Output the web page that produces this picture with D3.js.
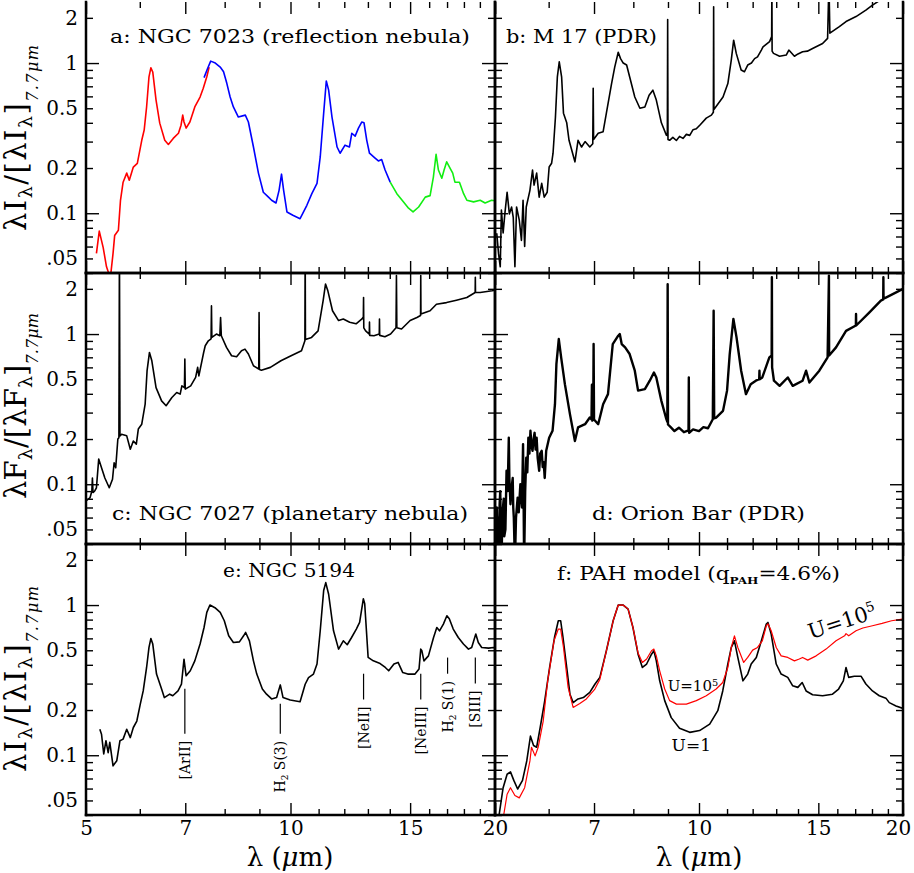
<!DOCTYPE html>
<html>
<head>
<meta charset="utf-8">
<script src="https://cdn.jsdelivr.net/npm/d3@7"></script>
<style>
  body { margin: 0; background: #fff; }
  text { font-family: "DejaVu Serif", serif; fill: #000; }
</style>
</head>
<body>
<script>
'use strict';

(function() {

  // axis ticks (wavelength in micron, normalised intensity)
  const xMajor = [5, 7, 10, 15, 20];
  const xMinor = [6, 8, 9, 11, 12, 13, 14, 16, 17, 18, 19];
  const yMajor = [0.1, 1];
  const yMinor = [0.04, 0.05, 0.06, 0.07, 0.08, 0.09, 0.2, 0.3, 0.4, 0.5, 0.6, 0.7, 0.8, 0.9, 2];
  const yLabelValues = [0.05, 0.1, 0.2, 0.5, 1, 2];
  const yLabelText = ['.05', '0.1', '0.2', '0.5', '1', '2'];

  // a: NGC 7023, three spectral orders
  const ngc7023Red = [[5.18,0.054],[5.23,0.076],[5.30,0.059],[5.36,0.044],[5.43,0.037],[5.48,0.054],[5.51,0.071],[5.58,0.077],
    [5.62,0.122],[5.67,0.161],[5.74,0.185],[5.79,0.166],[5.87,0.203],[5.95,0.215],[6.04,0.306],[6.09,0.358],[6.14,0.51],
    [6.19,0.81],[6.23,0.93],[6.27,0.87],[6.34,0.567],[6.42,0.398],[6.53,0.306],[6.61,0.287],[6.72,0.315],[6.84,0.341],
    [6.90,0.386],[6.94,0.45],[6.97,0.405],[7.02,0.369],[7.11,0.405],[7.23,0.51],[7.36,0.594],[7.44,0.68],[7.53,0.81],[7.59,0.94]];
  const ngc7023Blue = [[7.46,0.80],[7.55,0.92],[7.63,1.03],[7.75,1.0],[7.88,0.94],[7.97,0.875],[8.06,0.73],[8.15,0.594],
    [8.24,0.51],[8.38,0.437],[8.58,0.45],[8.67,0.405],[8.82,0.276],[8.97,0.185],[9.12,0.138],[9.28,0.128],[9.38,0.122],
    [9.52,0.117],[9.62,0.142],[9.70,0.182],[9.77,0.142],[9.88,0.102],[10.08,0.097],[10.33,0.092],[10.57,0.113],[10.75,0.135],
    [10.94,0.158],[11.06,0.237],[11.19,0.464],[11.29,0.76],[11.38,0.66],[11.51,0.437],[11.71,0.276],[11.83,0.251],
    [12.03,0.284],[12.21,0.276],[12.31,0.341],[12.45,0.326],[12.59,0.369],[12.73,0.405],[12.83,0.40],[12.95,0.306],
    [13.07,0.251],[13.32,0.233],[13.47,0.223],[13.62,0.228],[13.78,0.194],[14.02,0.161]];
  const ngc7023Green = [[14.02,0.161],[14.34,0.135],[14.67,0.119],[14.92,0.108],[15.15,0.102],[15.44,0.110],[15.79,0.128],
    [16.05,0.131],[16.23,0.174],[16.38,0.247],[16.51,0.194],[16.70,0.171],[16.83,0.194],[16.98,0.22],[17.14,0.203],
    [17.33,0.185],[17.46,0.161],[17.73,0.161],[17.98,0.135],[18.18,0.122],[18.60,0.119],[19.02,0.122],[19.34,0.117],
    [19.77,0.122],[20.0,0.121]];

  // b: M 17
  const m17 = [[5.03,0.0736],[5.06,0.054],[5.09,0.044],[5.11,0.105],[5.14,0.074],[5.17,0.099],[5.21,0.138],[5.25,0.099],
    [5.29,0.110],[5.32,0.094],[5.35,0.044],[5.38,0.110],[5.43,0.090],[5.47,0.066],[5.50,0.122],[5.53,0.060],[5.56,0.110],
    [5.63,0.142],[5.68,0.194],[5.71,0.154],[5.76,0.185],[5.81,0.128],[5.86,0.158],[5.91,0.128],[5.97,0.138],[6.01,0.203],
    [6.06,0.215],[6.09,0.251],[6.14,0.437],[6.18,0.81],[6.22,1.02],[6.27,0.81],[6.31,0.464],[6.38,0.40],[6.43,0.306],
    [6.56,0.22],[6.63,0.306],[6.71,0.276],[6.79,0.30],[6.90,0.276],[6.97,0.29],[6.98,0.68],[6.99,0.31],[7.10,0.341],
    [7.22,0.349],[7.30,0.464],[7.43,0.73],[7.51,0.94],[7.60,1.18],[7.66,1.07],[7.73,1.0],[7.82,0.97],[7.90,0.81],
    [8.04,0.594],[8.18,0.50],[8.32,0.51],[8.44,0.61],[8.55,0.66],[8.65,0.567],[8.80,0.40],[8.95,0.331],[8.98,0.33],
    [8.99,1.95],[9.00,0.31],[9.05,0.306],[9.15,0.32],[9.26,0.305],[9.36,0.325],[9.47,0.315],[9.58,0.335],[9.69,0.33],
    [9.80,0.36],[9.91,0.365],[10.05,0.39],[10.25,0.43],[10.43,0.45],[10.50,0.47],[10.51,2.37],[10.52,0.49],[10.85,0.594],
    [11.03,0.73],[11.16,1.05],[11.25,1.42],[11.35,1.16],[11.54,0.90],[11.67,0.875],[11.80,0.97],[11.95,1.0],[12.08,1.07],
    [12.2,1.1],[12.36,1.22],[12.43,1.28],[12.71,1.39],[12.80,1.5],[12.81,3.5],[12.82,1.2],[12.88,1.16],[13.15,1.11],
    [13.45,1.13],[13.57,1.22],[13.83,1.11],[14.0,1.15],[14.22,1.19],[14.45,1.2],[14.71,1.25],[15.22,1.35],[15.48,1.46],
    [15.55,3.5],[15.6,1.58],[16.11,1.75],[16.48,1.89],[17.05,2.04],[17.63,2.25],[18.03,2.43],[18.45,2.6],[20,3.2]];

  // c: NGC 7027
  const ngc7027 = [[5.0,0.0774],[5.07,0.0815],[5.10,0.09],[5.11,0.110],[5.12,0.088],[5.15,0.0902],[5.18,0.0947],[5.22,0.147],
    [5.27,0.129],[5.33,0.110],[5.41,0.0947],[5.47,0.108],[5.50,0.139],[5.53,0.129],[5.57,0.20],[5.59,0.204],[5.60,4],
    [5.61,0.21],[5.64,0.215],[5.74,0.21],[5.81,0.171],[5.87,0.194],[5.93,0.185],[5.97,0.233],[6.04,0.251],[6.11,0.341],
    [6.15,0.57],[6.20,0.754],[6.25,0.664],[6.34,0.44],[6.46,0.359],[6.56,0.333],[6.69,0.378],[6.80,0.408],[6.88,0.398],
    [6.92,0.452],[6.98,0.44],[6.99,0.681],[7.00,0.43],[7.13,0.452],[7.25,0.514],[7.30,0.60],[7.33,0.527],[7.45,0.754],
    [7.49,0.836],[7.57,0.902],[7.64,0.93],[7.65,1.54],[7.66,0.95],[7.78,1.0],[7.87,0.975],[7.89,1.29],[7.91,0.975],
    [8.05,0.815],[8.19,0.717],[8.33,0.706],[8.47,0.774],[8.57,0.794],[8.67,0.736],[8.82,0.615],[8.98,0.585],[8.99,1.39],
    [9.0,0.58],[9.06,0.575],[9.34,0.60],[9.68,0.664],[10.02,0.717],[10.38,0.774],[10.50,0.902],[10.51,4],[10.52,0.92],
    [10.74,0.95],[10.98,1.05],[11.17,1.67],[11.26,2.15],[11.35,1.94],[11.53,1.43],[11.77,1.23],[11.96,1.26],[12.22,1.20],
    [12.49,1.17],[12.74,1.26],[12.80,1.3],[12.81,1.75],[12.82,1.1],[12.9,1.05],[13.06,1.0],[13.07,1.20],[13.08,0.98],
    [13.27,0.975],[13.51,1.0],[13.52,1.26],[13.53,0.98],[13.77,0.96],[14.04,1.0],[14.30,1.10],[14.32,2.45],[14.34,1.10],
    [14.57,1.08],[15.0,1.23],[15.35,1.29],[15.54,1.33],[15.55,2.45],[15.56,1.36],[16.05,1.43],[16.4,1.58],[16.97,1.62],
    [17.55,1.68],[18.18,1.75],[18.70,1.89],[18.71,2.39],[18.72,1.89],[19.02,1.89],[19.8,1.94],[20,1.96]];

  // d: Orion Bar
  const orionBar = [[5.01,0.045],[5.02,0.03],[5.03,0.07],[5.04,0.035],[5.05,0.06],[5.06,0.03],[5.07,0.05],[5.08,0.075],
    [5.09,0.090],[5.10,0.05],[5.11,0.03],[5.13,0.065],[5.15,0.08],[5.16,0.045],[5.18,0.05],[5.20,0.123],[5.22,0.09],
    [5.24,0.204],[5.25,0.11],[5.27,0.0736],[5.29,0.095],[5.31,0.110],[5.32,0.07],[5.33,0.06],[5.35,0.03],[5.37,0.06],
    [5.40,0.0815],[5.42,0.065],[5.45,0.1],[5.48,0.07],[5.50,0.185],[5.51,0.08],[5.52,0.03],[5.54,0.09],[5.56,0.15],
    [5.58,0.12],[5.60,0.204],[5.62,0.16],[5.64,0.227],[5.66,0.18],[5.68,0.167],[5.70,0.2],[5.72,0.22],[5.74,0.17],
    [5.76,0.204],[5.78,0.15],[5.81,0.123],[5.83,0.16],[5.86,0.167],[5.88,0.13],[5.90,0.14],[5.92,0.110],[5.95,0.167],
    [6.01,0.204],[6.08,0.227],[6.13,0.341],[6.16,0.631],[6.21,0.926],[6.26,0.70],[6.34,0.464],[6.45,0.293],[6.56,0.194],
    [6.63,0.239],[6.79,0.251],[6.90,0.278],[6.94,0.27],[6.95,0.46],[6.96,0.265],[6.98,0.27],[6.99,0.858],[7.00,0.27],
    [7.10,0.251],[7.22,0.341],[7.34,0.398],[7.46,0.858],[7.60,0.975],[7.64,1.0],[7.69,0.858],[7.78,0.815],[7.90,0.736],
    [8.04,0.57],[8.13,0.42],[8.32,0.43],[8.46,0.489],[8.58,0.555],[8.65,0.514],[8.80,0.359],[8.95,0.271],[8.98,0.26],
    [8.99,2.15],[9.0,0.25],[9.09,0.239],[9.2,0.226],[9.34,0.238],[9.5,0.222],[9.65,0.228],[9.66,0.514],[9.67,0.22],
    [9.8,0.232],[10.0,0.226],[10.15,0.24],[10.31,0.236],[10.48,0.271],[10.51,1.43],[10.53,0.275],[10.6,0.278],[10.85,0.308],
    [11.0,0.42],[11.1,0.736],[11.24,1.26],[11.36,0.95],[11.54,0.57],[11.73,0.398],[11.92,0.464],[12.13,0.489],[12.27,0.50],
    [12.28,0.57],[12.29,0.50],[12.4,0.514],[12.7,0.70],[12.80,0.72],[12.81,2.39],[12.82,0.6],[12.9,0.489],[13.15,0.452],
    [13.52,0.514],[13.75,0.452],[14.22,0.489],[14.39,0.57],[14.55,0.476],[15.05,0.57],[15.48,0.70],[15.55,2.45],
    [15.56,0.72],[15.93,0.815],[16.48,1.05],[17.04,1.14],[17.05,1.36],[17.06,1.14],[17.83,1.39],[18.55,1.67],[18.70,1.7],
    [18.71,2.39],[18.72,1.72],[18.87,1.75],[19.97,1.99]];

  // e: NGC 5194
  const ngc5194 = [[5.24,0.149],[5.27,0.138],[5.31,0.102],[5.35,0.125],[5.39,0.104],[5.42,0.122],[5.48,0.085],[5.55,0.092],
    [5.61,0.125],[5.67,0.128],[5.74,0.149],[5.81,0.131],[5.87,0.153],[5.94,0.169],[6.01,0.219],[6.07,0.268],[6.14,0.384],
    [6.19,0.522],[6.23,0.599],[6.27,0.55],[6.35,0.347],[6.46,0.276],[6.52,0.242],[6.64,0.255],[6.71,0.249],[6.83,0.268],
    [6.91,0.297],[6.97,0.436],[7.02,0.338],[7.12,0.365],[7.23,0.425],[7.36,0.55],[7.46,0.709],[7.53,0.893],[7.61,1.0],
    [7.74,0.96],[7.88,0.893],[7.99,0.786],[8.11,0.624],[8.24,0.563],[8.41,0.569],[8.53,0.624],[8.59,0.657],[8.70,0.578],
    [8.82,0.425],[8.92,0.347],[9.09,0.276],[9.22,0.255],[9.38,0.237],[9.54,0.242],[9.66,0.294],[9.75,0.242],[9.99,0.233],
    [10.33,0.227],[10.51,0.297],[10.63,0.329],[10.81,0.347],[10.94,0.405],[11.06,0.674],[11.19,1.25],[11.27,1.41],
    [11.38,1.18],[11.57,0.674],[11.77,0.509],[11.96,0.578],[12.12,0.544],[12.30,0.608],[12.50,0.692],[12.64,0.766],
    [12.80,1.10],[12.86,1.02],[13.01,0.448],[13.24,0.425],[13.55,0.408],[13.79,0.384],[13.95,0.365],[14.20,0.405],
    [14.40,0.415],[14.63,0.355],[14.88,0.347],[15.25,0.347],[15.46,0.375],[15.55,0.509],[15.61,0.496],[15.72,0.425],
    [15.96,0.459],[16.24,0.608],[16.42,0.709],[16.57,0.674],[16.79,0.747],[16.99,0.849],[17.13,0.81],[17.36,0.692],
    [17.66,0.608],[17.97,0.55],[18.28,0.509],[18.48,0.522],[18.74,0.641],[18.90,0.563],[19.12,0.522],[19.57,0.517],
    [19.90,0.522],[20,0.52]];

  // e: identified emission lines (wavelength, line top, line bottom)
  const lineNames = ['[ArII]', 'H2 S(3)', '[NeII]', '[NeIII]', 'H2 S(1)', '[SIII]'];
  const lineWaves = [6.99, 9.66, 12.81, 15.55, 17.03, 18.71];
  const lineTops = [0.277, 0.22, 0.349, 0.349, 0.447, 0.447];
  const lineBottoms = [0.139, 0.139, 0.235, 0.235, 0.349, 0.30];

  // f: PAH model, U = 1 and U = 1e5
  const modelU1 = [[5.07,0.04],[5.14,0.0608],[5.21,0.0747],[5.27,0.0775],[5.33,0.068],[5.40,0.0596],[5.49,0.068],
    [5.57,0.0917],[5.64,0.134],[5.70,0.116],[5.76,0.113],[5.83,0.153],[5.92,0.23],[6.02,0.384],[6.12,0.608],[6.20,0.786],
    [6.25,0.786],[6.30,0.608],[6.38,0.384],[6.45,0.255],[6.52,0.224],[6.63,0.237],[6.75,0.242],[6.90,0.262],[7.02,0.297],
    [7.14,0.33],[7.30,0.496],[7.47,0.786],[7.60,1.0],[7.73,1.0],[7.86,0.94],[7.99,0.709],[8.13,0.471],[8.25,0.384],
    [8.37,0.405],[8.51,0.471],[8.58,0.496],[8.65,0.425],[8.75,0.313],[8.90,0.231],[9.10,0.178],[9.36,0.151],[9.69,0.142],
    [10.02,0.146],[10.37,0.161],[10.66,0.198],[10.84,0.268],[11.03,0.405],[11.16,0.522],[11.28,0.578],[11.41,0.448],
    [11.61,0.313],[11.80,0.347],[11.94,0.405],[12.15,0.448],[12.36,0.578],[12.57,0.747],[12.64,0.766],[12.78,0.641],
    [13.00,0.405],[13.22,0.347],[13.52,0.33],[13.75,0.29],[13.99,0.283],[14.20,0.305],[14.39,0.268],[14.71,0.253],
    [15.22,0.249],[15.74,0.255],[16.07,0.276],[16.33,0.313],[16.48,0.384],[16.63,0.33],[16.95,0.336],[17.34,0.336],
    [17.63,0.298],[18.03,0.268],[18.45,0.249],[18.87,0.24],[19.09,0.224],[19.53,0.213],[20,0.205]];
  const modelU1e5 = [[5.15,0.04],[5.21,0.055],[5.27,0.0608],[5.35,0.054],[5.43,0.052],[5.53,0.0608],[5.63,0.0917],
    [5.66,0.113],[5.73,0.099],[5.79,0.113],[5.89,0.169],[5.98,0.313],[6.11,0.578],[6.20,0.692],[6.25,0.692],[6.31,0.522],
    [6.41,0.283],[6.52,0.208],[6.67,0.221],[6.82,0.237],[7.02,0.276],[7.14,0.32],[7.30,0.496],[7.47,0.786],[7.60,1.0],
    [7.73,1.0],[7.86,0.94],[7.99,0.709],[8.13,0.48],[8.25,0.415],[8.37,0.437],[8.51,0.496],[8.58,0.509],[8.65,0.459],
    [8.75,0.365],[8.90,0.276],[9.05,0.231],[9.26,0.219],[9.58,0.219],[9.91,0.231],[10.25,0.249],[10.60,0.276],[10.84,0.305],
    [11.03,0.384],[11.16,0.522],[11.28,0.624],[11.41,0.522],[11.64,0.415],[11.80,0.448],[12.0,0.501],[12.2,0.522],
    [12.4,0.578],[12.57,0.728],[12.64,0.75],[12.78,0.674],[13.0,0.522],[13.22,0.459],[13.52,0.448],[13.83,0.425],
    [14.06,0.437],[14.22,0.448],[14.47,0.43],[14.89,0.459],[15.4,0.509],[15.93,0.578],[16.4,0.624],[16.48,0.645],
    [16.63,0.624],[17.05,0.674],[17.45,0.703],[18.03,0.728],[18.63,0.755],[19.24,0.786],[19.95,0.807]];

  // layout of the 3x2 grid
  const colX = [86, 495];
  const colW = [409, 408];
  const rowY = [2, 273, 544];
  const rowH = 271;

  let svg = "";

  window.onload = function() {
    svg = d3.select('body')
      .append('svg')
      .attr('width', 914)
      .attr('height', 873);

    let panels = [
      {id: 'a', col: 0, row: 0, title: 'a: NGC 7023 (reflection nebula)', tx: 24, ty: 41, tw: 360,
        series: [{data: ngc7023Red, color: '#ff0000'}, {data: ngc7023Blue, color: '#0000ff'}, {data: ngc7023Green, color: '#11ee11'}]},
      {id: 'b', col: 1, row: 0, title: 'b: M 17 (PDR)', tx: 11, ty: 41, tw: 151,
        series: [{data: m17, color: '#000'}]},
      {id: 'c', col: 0, row: 1, title: 'c: NGC 7027 (planetary nebula)', tx: 26, ty: 247, tw: 356,
        series: [{data: ngc7027, color: '#000'}]},
      {id: 'd', col: 1, row: 1, title: 'd: Orion Bar (PDR)', tx: 97, ty: 247, tw: 213,
        series: [{data: orionBar, color: '#000', width: 2.4}]},
      {id: 'e', col: 0, row: 2, title: 'e: NGC 5194', tx: 137, ty: 33, tw: 132,
        series: [{data: ngc5194, color: '#000'}]},
      {id: 'f', col: 1, row: 2, title: null, tx: 62, ty: 36, tw: 283,
        series: [{data: modelU1, color: '#000'}, {data: modelU1e5, color: '#ff0000', width: 1.2}]}
    ];

    let scales = {};
    panels.forEach(p => { scales[p.id] = drawPanel(p); });

    addLineIds(scales.e);
    addModelNotes(scales.f);
    addAxisTitles();
  };

  // draw one panel: curves, frame, ticks and title
  function drawPanel(p) {
    let left = colX[p.col];
    let top = rowY[p.row];
    let x = d3.scaleLog().domain([5, 20]).range([left, left + colW[p.col]]);
    let y = d3.scaleLog().domain([0.04, 2.55]).range([top + rowH, top]);

    let clipId = 'clip-' + p.id;
    svg.append('clipPath').attr('id', clipId)
      .append('rect')
      .attr('x', left).attr('y', top)
      .attr('width', colW[p.col]).attr('height', rowH);

    let line = d3.line()
      .x(d => x(d[0]))
      .y(d => y(d[1]));

    let g = svg.append('g');
    p.series.forEach(s => {
      g.append('path')
        .datum(s.data)
        .attr('clip-path', 'url(#' + clipId + ')')
        .attr('fill', 'none')
        .attr('stroke', s.color)
        .attr('stroke-width', s.width || 1.6)
        .attr('stroke-linejoin', 'round')
        .attr('d', line);
    });

    drawFrame(g, x, y, p);

    // panel title
    let t = g.append('text')
      .attr('x', left + p.tx)
      .attr('y', top + p.ty)
      .attr('font-size', 18)
      .attr('textLength', p.tw)
      .attr('lengthAdjust', 'spacingAndGlyphs');
    if (p.title) {
      t.text(p.title);
    } else {
      t.append('tspan').text('f: PAH model (q');
      t.append('tspan').attr('font-size', 10).attr('font-weight', 'bold')
        .attr('baseline-shift', '-4').text('PAH');
      t.append('tspan').text('=4.6%)');
    }
    return {x: x, y: y, g: g};
  }

  // tick marks on one edge, pointing inside the panel
  function addTicks(g, axis, values, len, transform) {
    g.append('g')
      .attr('transform', transform)
      .call(axis.tickValues(values).tickSize(-len).tickFormat(''))
      .call(s => s.select('.domain').remove())
      .selectAll('line')
        .attr('stroke', '#000')
        .attr('stroke-width', 1.4);
  }

  // frame with ticks on all four sides, labels on outer sides
  function drawFrame(g, x, y, p) {
    let [x0, x1] = x.range();
    let [y1, y0] = y.range();

    [[xMajor, 12], [xMinor, 6]].forEach(([vals, len]) => {
      addTicks(g, d3.axisBottom(x), vals, len, 'translate(0,' + y1 + ')');
      addTicks(g, d3.axisTop(x), vals, len, 'translate(0,' + y0 + ')');
    });
    [[yMajor, 13], [yMinor, 7]].forEach(([vals, len]) => {
      addTicks(g, d3.axisLeft(y), vals, len, 'translate(' + x0 + ',0)');
      addTicks(g, d3.axisRight(y), vals, len, 'translate(' + x1 + ',0)');
    });

    // frame lines (the outer top edge is off the picture)
    let edges = [[x0, y1, x1, y1], [x0, y0, x0, y1], [x1, y0, x1, y1]];
    if (p.row > 0) edges.push([x0, y0, x1, y0]);
    edges.forEach(e => {
      g.append('line')
        .attr('x1', e[0]).attr('y1', e[1])
        .attr('x2', e[2]).attr('y2', e[3])
        .attr('stroke', '#000')
        .attr('stroke-width', 2.5)
        .attr('stroke-linecap', 'square');
    });

    // y tick labels on the left column
    if (p.col === 0) {
      let ax = g.append('g')
        .attr('transform', 'translate(' + x0 + ',0)')
        .call(d3.axisLeft(y).tickValues(yLabelValues).tickSize(0).tickPadding(8)
          .tickFormat((d, i) => yLabelText[i]));
      ax.select('.domain').remove();
      ax.selectAll('text')
        .attr('font-family', '"DejaVu Serif", serif')
        .attr('font-size', 20);
    }

    // x tick labels on the bottom row
    if (p.row === 2) {
      let vals = p.col === 0 ? xMajor : xMajor.slice(1);
      let ax = g.append('g')
        .attr('transform', 'translate(0,' + y1 + ')')
        .call(d3.axisBottom(x).tickValues(vals).tickSize(0).tickPadding(6)
          .tickFormat(d3.format('d')));
      ax.select('.domain').remove();
      ax.selectAll('text')
        .attr('font-family', '"DejaVu Serif", serif')
        .attr('font-size', 20)
        .attr('dx', d => (p.col === 1 && d === 20) ? -5 : 0);
    }
  }

  // vertical markers and rotated names of the emission lines in panel e
  function addLineIds(s) {
    lineNames.forEach((name, i) => {
      let lx = s.x(lineWaves[i]);
      s.g.append('line')
        .attr('x1', lx).attr('x2', lx)
        .attr('y1', s.y(lineTops[i]))
        .attr('y2', s.y(lineBottoms[i]))
        .attr('stroke', '#000')
        .attr('stroke-width', 1.2);

      let t = s.g.append('text')
        .attr('transform', 'translate(' + (lx + 5) + ',' + (s.y(lineBottoms[i]) + 7) + ')rotate(-90)')
        .attr('text-anchor', 'end')
        .attr('font-size', 14);
      if (name.startsWith('H2')) {
        t.append('tspan').text('H');
        t.append('tspan').attr('font-size', 9).attr('baseline-shift', '-3').text('2');
        t.append('tspan').text(name.slice(2));
      } else {
        t.text(name);
      }
    });
  }

  // U labels of the model curves
  function addModelNotes(s) {
    let notes = [
      {wave: 16.39, value: 0.70, size: 21, rotate: -18, anchor: 'middle'},
      {wave: 8.99, value: 0.268, size: 15, rotate: 0, anchor: 'start'}
    ];
    notes.forEach(n => {
      let t = s.g.append('text')
        .attr('transform', 'translate(' + s.x(n.wave) + ',' + s.y(n.value) + ')rotate(' + n.rotate + ')')
        .attr('text-anchor', n.anchor)
        .attr('font-size', n.size);
      t.append('tspan').text('U=10');
      t.append('tspan').attr('font-size', n.size * 0.65).attr('baseline-shift', 'super').text('5');
    });

    s.g.append('text')
      .attr('x', s.x(9.11))
      .attr('y', s.y(0.107))
      .attr('font-size', 17)
      .text('U=1');
  }

  // axis titles
  function addAxisTitles() {
    let yTitles = [['I', 138], ['F', 406], ['I', 679]];
    yTitles.forEach(([q, cy]) => {
      let t = svg.append('text')
        .attr('transform', 'translate(26,' + cy + ')rotate(-90)')
        .attr('text-anchor', 'middle')
        .attr('font-size', 29)
        .attr('textLength', 186)
        .attr('lengthAdjust', 'spacing');
      t.append('tspan').text('λ' + q);
      t.append('tspan').attr('font-size', 19).attr('baseline-shift', '-6').text('λ');
      t.append('tspan').text('/[λ' + q);
      t.append('tspan').attr('font-size', 19).attr('baseline-shift', '-6').text('λ');
      t.append('tspan').text(']');
      t.append('tspan').attr('font-size', 16).attr('font-style', 'italic').attr('baseline-shift', '-12').text('7.7μm');
    });

    [290, 699].forEach(cx => {
      let t = svg.append('text')
        .attr('x', cx)
        .attr('y', 866)
        .attr('text-anchor', 'middle')
        .attr('font-size', 26);
      t.append('tspan').text('λ (');
      t.append('tspan').attr('font-style', 'italic').text('μ');
      t.append('tspan').text('m)');
    });
  }
})();
</script>
</body>
</html>
